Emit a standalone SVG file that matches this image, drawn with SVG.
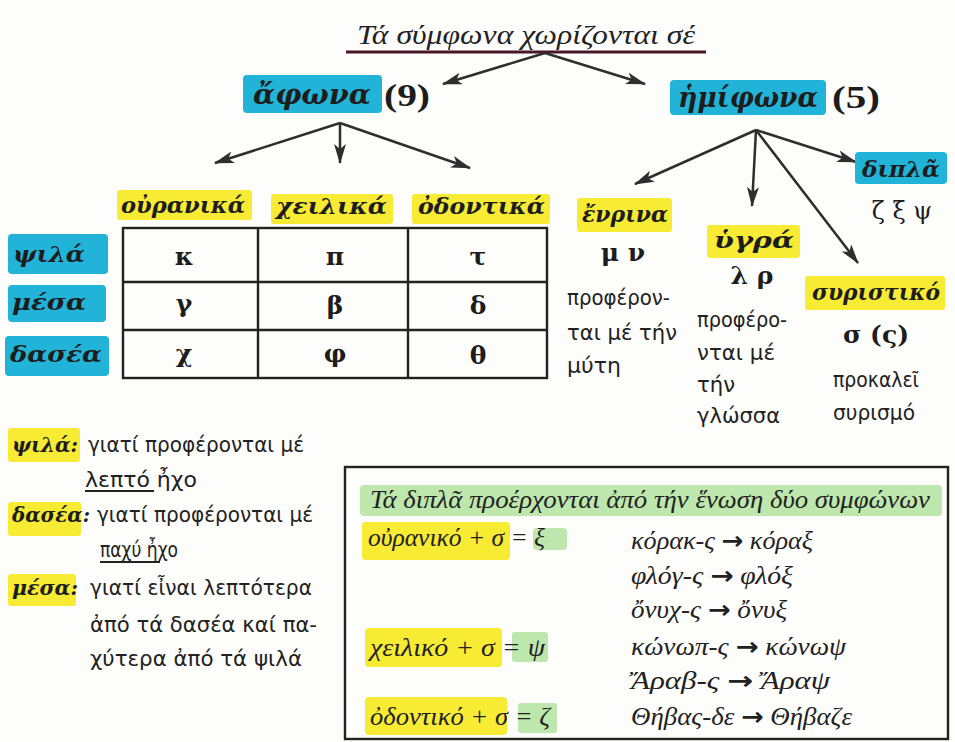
<svg xmlns="http://www.w3.org/2000/svg" width="955" height="742" viewBox="0 0 955 742">
<defs>
<marker id="ah" viewBox="0 0 20 12" refX="19" refY="6" markerWidth="20" markerHeight="12" markerUnits="userSpaceOnUse" orient="auto">
<path d="M0,0 L20,6 L0,12 L5,6 z" fill="#2e2e2e"/>
</marker>
<style>
.bg{fill:#fdfdfb}
.blue{fill:#22b3d9}
.yel{fill:#f7eb34}
.grn{fill:#bde7ad}
.lbl{font-family:"DejaVu Serif","Liberation Serif",serif;font-weight:bold;font-style:italic;fill:#1d1d1d}
.num{font-family:"Liberation Serif",serif;font-weight:bold;fill:#1d1d1d}
.cell{font-family:"DejaVu Serif","Liberation Serif",serif;font-weight:bold;font-size:25px;fill:#1d1d1d;text-anchor:middle}
.let{font-family:"DejaVu Serif","Liberation Serif",serif;font-size:24px;fill:#1d1d1d;text-anchor:middle}
.body{font-family:"DejaVu Sans","Noto Sans",sans-serif;font-size:22px;fill:#222}
.cm{font-family:"Liberation Serif",serif;font-style:italic;font-size:25px;fill:#222}
.arr{font-family:"DejaVu Sans",sans-serif;font-style:normal;font-weight:bold}
.conn line{stroke:#2e2e2e;stroke-width:2.5;marker-end:url(#ah)}
.grid{fill:none;stroke:#222;stroke-width:2.4}
</style>
</defs>
<rect class="bg" x="0" y="0" width="955" height="742"/>

<g id="title">
<text x="357" y="44" class="cm" style="font-size:27px" textLength="338" lengthAdjust="spacingAndGlyphs">Τά σύμφωνα χωρίζονται σέ</text>
<line x1="346" y1="52" x2="706" y2="52" stroke="#4a1626" stroke-width="3"/>
</g>

<g id="afona">
<rect class="blue" x="243" y="75" width="139" height="38" rx="4"/>
<text x="253" y="104" class="lbl" font-size="28" textLength="118" lengthAdjust="spacingAndGlyphs">ἄφωνα</text>
<text x="384" y="106" class="num" font-size="32" textLength="46" lengthAdjust="spacingAndGlyphs">(9)</text>
</g>

<g id="imifona">
<rect class="blue" x="670" y="80" width="156" height="35" rx="4"/>
<text x="678" y="107" class="lbl" font-size="27" textLength="140" lengthAdjust="spacingAndGlyphs">ἡμίφωνα</text>
<text x="832" y="108" class="num" font-size="32" textLength="48" lengthAdjust="spacingAndGlyphs">(5)</text>
</g>

<g id="conn" class="conn">
<line x1="545" y1="53" x2="443" y2="84"/>
<line x1="545" y1="53" x2="645" y2="84"/>
<line x1="340" y1="123" x2="215" y2="163"/>
<line x1="340" y1="123" x2="340" y2="163"/>
<line x1="340" y1="123" x2="470" y2="168"/>
<line x1="756" y1="130" x2="635" y2="184"/>
<line x1="756" y1="130" x2="752" y2="206"/>
<line x1="756" y1="130" x2="858" y2="263"/>
<line x1="756" y1="130" x2="856" y2="162"/>
</g>

<g id="headers">
<rect class="yel" x="117" y="190" width="135" height="30" rx="3"/>
<text x="121" y="213" class="lbl" font-size="22" textLength="124" lengthAdjust="spacingAndGlyphs">οὐρανικά</text>
<rect class="yel" x="271" y="194" width="122" height="30" rx="3"/>
<text x="276" y="214" class="lbl" font-size="22" textLength="111" lengthAdjust="spacingAndGlyphs">χειλικά</text>
<rect class="yel" x="412" y="194" width="138" height="30" rx="3"/>
<text x="418" y="214" class="lbl" font-size="22" textLength="127" lengthAdjust="spacingAndGlyphs">ὀδοντικά</text>
</g>

<g id="rows">
<rect class="blue" x="8" y="234" width="100" height="40" rx="4"/>
<text x="13" y="262" class="lbl" font-size="23" textLength="72" lengthAdjust="spacingAndGlyphs">ψιλά</text>
<rect class="blue" x="8" y="285" width="98" height="37" rx="4"/>
<text x="12" y="310" class="lbl" font-size="23" textLength="74" lengthAdjust="spacingAndGlyphs">μέσα</text>
<rect class="blue" x="5" y="336" width="104" height="40" rx="4"/>
<text x="10" y="362" class="lbl" font-size="23" textLength="92" lengthAdjust="spacingAndGlyphs">δασέα</text>
</g>

<g id="table">
<rect class="grid" x="123" y="228" width="424" height="150"/>
<line class="grid" x1="258" y1="228" x2="258" y2="378"/>
<line class="grid" x1="408" y1="228" x2="408" y2="378"/>
<line class="grid" x1="123" y1="282" x2="547" y2="282"/>
<line class="grid" x1="123" y1="330" x2="547" y2="330"/>
<text class="cell" x="184" y="265">κ</text>
<text class="cell" x="335" y="265">π</text>
<text class="cell" x="478" y="265">τ</text>
<text class="cell" x="184" y="312">γ</text>
<text class="cell" x="335" y="314">β</text>
<text class="cell" x="478" y="314">δ</text>
<text class="cell" x="184" y="362">χ</text>
<text class="cell" x="335" y="362">φ</text>
<text class="cell" x="478" y="364">θ</text>
</g>

<g id="dipla">
<rect class="blue" x="855" y="152" width="92" height="32" rx="4"/>
<text x="862" y="177" class="lbl" font-size="23" textLength="78" lengthAdjust="spacingAndGlyphs">διπλᾶ</text>
<text x="902" y="219" class="let">ζ ξ ψ</text>
</g>

<g id="enrina">
<rect class="yel" x="577" y="198" width="95" height="34" rx="3"/>
<text x="582" y="222" class="lbl" font-size="23" textLength="86" lengthAdjust="spacingAndGlyphs">ἔνρινα</text>
<text x="623" y="261" class="cell" font-size="24">μ ν</text>
<text x="567" y="305" class="body" textLength="103" lengthAdjust="spacingAndGlyphs">προφέρον-</text>
<text x="567" y="340" class="body" textLength="110" lengthAdjust="spacingAndGlyphs">ται μέ τήν</text>
<text x="567" y="373" class="body" textLength="54" lengthAdjust="spacingAndGlyphs">μύτη</text>
</g>

<g id="ygra">
<rect class="yel" x="707" y="225" width="93" height="33" rx="3"/>
<text x="714" y="248" class="lbl" font-size="23" textLength="80" lengthAdjust="spacingAndGlyphs">ὑγρά</text>
<text x="752" y="284" class="cell" font-size="24">λ ρ</text>
<text x="697" y="327" class="body" textLength="90" lengthAdjust="spacingAndGlyphs">προφέρο-</text>
<text x="697" y="360" class="body" textLength="78" lengthAdjust="spacingAndGlyphs">νται μέ</text>
<text x="697" y="392" class="body" textLength="38" lengthAdjust="spacingAndGlyphs">τήν</text>
<text x="697" y="423" class="body" textLength="83" lengthAdjust="spacingAndGlyphs">γλώσσα</text>
</g>

<g id="syristiko">
<rect class="yel" x="805" y="276" width="140" height="34" rx="3"/>
<text x="812" y="300" class="lbl" font-size="23" textLength="128" lengthAdjust="spacingAndGlyphs">συριστικό</text>
<text x="876" y="343" class="cell" font-size="24">σ (ς)</text>
<text x="876" y="387" class="body" text-anchor="middle" textLength="86" lengthAdjust="spacingAndGlyphs">προκαλεῖ</text>
<text x="874" y="420" class="body" text-anchor="middle" textLength="82" lengthAdjust="spacingAndGlyphs">συρισμό</text>
</g>

<g id="notes">
<rect class="yel" x="8" y="428" width="72" height="34" rx="3"/>
<text x="12" y="452" class="lbl" font-size="21" textLength="66" lengthAdjust="spacingAndGlyphs">ψιλά:</text>
<text x="88" y="452" class="body" textLength="216" lengthAdjust="spacingAndGlyphs">γιατί προφέρονται μέ</text>
<text x="85" y="487" class="body" textLength="112" lengthAdjust="spacingAndGlyphs">λεπτό ἦχο</text>
<line x1="85" y1="491" x2="154" y2="491" stroke="#222" stroke-width="1.8"/>
<rect class="yel" x="8" y="502" width="73" height="34" rx="3"/>
<text x="12" y="522" class="lbl" font-size="21" textLength="78" lengthAdjust="spacingAndGlyphs">δασέα:</text>
<text x="97" y="522" class="body" textLength="216" lengthAdjust="spacingAndGlyphs">γιατί προφέρονται μέ</text>
<text x="100" y="557" class="body" textLength="78" lengthAdjust="spacingAndGlyphs">παχύ ἦχο</text>
<line x1="100" y1="562" x2="160" y2="562" stroke="#222" stroke-width="1.8"/>
<rect class="yel" x="8" y="574" width="68" height="32" rx="3"/>
<text x="12" y="595" class="lbl" font-size="21" textLength="66" lengthAdjust="spacingAndGlyphs">μέσα:</text>
<text x="90" y="595" class="body" textLength="222" lengthAdjust="spacingAndGlyphs">γιατί εἶναι λεπτότερα</text>
<text x="90" y="632" class="body" textLength="227" lengthAdjust="spacingAndGlyphs">ἀπό τά δασέα καί πα-</text>
<text x="90" y="666" class="body" textLength="212" lengthAdjust="spacingAndGlyphs">χύτερα ἀπό τά ψιλά</text>
</g>

<g id="box">
<rect x="345" y="467" width="603" height="272" fill="none" stroke="#222" stroke-width="2.4"/>
<rect class="grn" x="360" y="485" width="582" height="31" rx="4"/>
<text x="370" y="508" class="cm" textLength="560" lengthAdjust="spacingAndGlyphs">Τά διπλᾶ προέρχονται ἀπό τήν ἕνωση δύο συμφώνων</text>
<rect class="yel" x="362" y="522" width="148" height="38" rx="4"/>
<rect class="grn" x="533" y="528" width="34" height="22" rx="4"/>
<text x="368" y="546" class="cm" textLength="177" lengthAdjust="spacingAndGlyphs">οὐρανικό + σ = ξ</text>
<rect class="yel" x="365" y="628" width="137" height="39" rx="4"/>
<rect class="grn" x="512" y="632" width="36" height="30" rx="3"/>
<text x="370" y="656" class="cm" textLength="175" lengthAdjust="spacingAndGlyphs">χειλικό + σ = ψ</text>
<rect class="yel" x="365" y="697" width="142" height="38" rx="4"/>
<rect class="grn" x="518" y="703" width="39" height="30" rx="3"/>
<text x="370" y="725" class="cm" textLength="180" lengthAdjust="spacingAndGlyphs">ὀδοντικό + σ = ζ</text>
<text x="631" y="549" class="cm" textLength="182" lengthAdjust="spacingAndGlyphs">κόρακ-ς <tspan class="arr">→</tspan> κόραξ</text>
<text x="631" y="584" class="cm" textLength="162" lengthAdjust="spacingAndGlyphs">φλόγ-ς <tspan class="arr">→</tspan> φλόξ</text>
<text x="631" y="618" class="cm" textLength="156" lengthAdjust="spacingAndGlyphs">ὄνυχ-ς <tspan class="arr">→</tspan> ὄνυξ</text>
<text x="631" y="655" class="cm" textLength="215" lengthAdjust="spacingAndGlyphs">κώνωπ-ς <tspan class="arr">→</tspan> κώνωψ</text>
<text x="631" y="689" class="cm" textLength="199" lengthAdjust="spacingAndGlyphs">Ἄραβ-ς <tspan class="arr">→</tspan> Ἄραψ</text>
<text x="631" y="725" class="cm" textLength="221" lengthAdjust="spacingAndGlyphs">Θήβας-δε <tspan class="arr">→</tspan> Θήβαζε</text>
</g>
</svg>
